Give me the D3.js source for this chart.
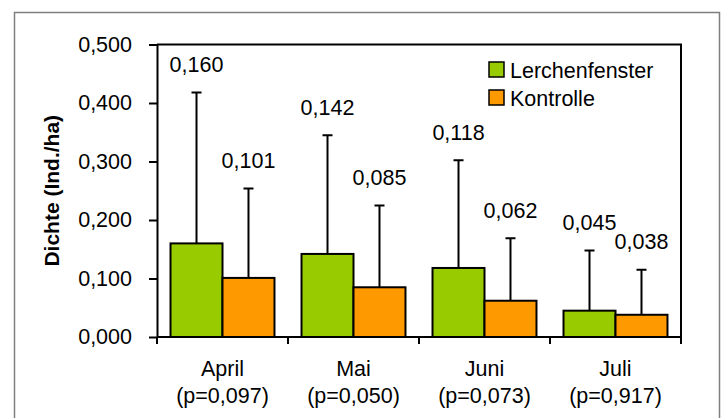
<!DOCTYPE html>
<html>
<head>
<meta charset="utf-8">
<script src="https://cdn.jsdelivr.net/npm/d3@7"></script>
<style>
  body { margin: 0; background: #fff; }
  text { font-family: "Liberation Sans", Arial, sans-serif; }
</style>
</head>
<body>
<div id="chart"></div>
<script>
// data
const months = ["April", "Mai", "Juni", "Juli"]
const pValues = ["(p=0,097)", "(p=0,050)", "(p=0,073)", "(p=0,917)"]
const seriesNames = ["Lerchenfenster", "Kontrolle"]
const seriesColors = ["#99CC00", "#FF9900"]
const lerchenfenster = [0.160, 0.142, 0.118, 0.045]
const kontrolle = [0.101, 0.085, 0.062, 0.038]
const lerchenfensterErr = [0.418, 0.345, 0.302, 0.148]   // top of error bar
const kontrolleErr = [0.254, 0.225, 0.169, 0.115]
const yTicks = [0, 0.1, 0.2, 0.3, 0.4, 0.5]

const W = 724, H = 418
const FS = '21.5px'
const margin = { left: 157, right: 43, top: 44.5, bottom: 81 }
const width = W - margin.left - margin.right
const height = H - margin.top - margin.bottom

const svg = d3.select('#chart').append('svg')
    .attr('width', W)
    .attr('height', H)

// outer frame
svg.append('rect')
    .attr('x', 14.5).attr('y', 12.5)
    .attr('width', 705).attr('height', 420)
    .attr('fill', 'none')
    .attr('stroke', '#7f7f7f')
    .attr('stroke-width', 1.5)

const g = svg.append('g')
    .attr('transform', `translate(${margin.left}, ${margin.top})`)

const xScale = d3.scaleBand().domain(months).range([0, width])
const xInner = d3.scaleBand().domain(seriesNames).range([0, xScale.bandwidth()]).paddingOuter(0.26)
const yScale = d3.scaleLinear().domain([0, 0.5]).range([height, 0])

const fmt = v => d3.format('.3f')(v).replace('.', ',')

// plot frame top/right
g.append('path')
    .attr('d', `M0,0H${width}V${height}`)
    .attr('fill', 'none')
    .attr('stroke', '#000')
    .attr('stroke-width', 2)

// y axis
const yaxis = d3.axisLeft(yScale).tickValues(yTicks).tickFormat(fmt).tickSize(8).tickSizeOuter(0)
const ya = g.append('g').call(yaxis)
ya.select('.domain').attr('stroke-width', 2)
ya.selectAll('.tick line').attr('stroke-width', 2)
ya.selectAll('.tick text')
    .attr('x', -25)
    .style('font-size', FS)
    .style('font-family', '"Liberation Sans", Arial, sans-serif')
    .attr('fill', '#000')

// y label
g.append('text')
    .attr('transform', 'rotate(-90)')
    .attr('x', -(height / 2))
    .attr('y', 59 - margin.left)
    .style('text-anchor', 'middle')
    .style('font-size', '21px')
    .style('font-weight', 'bold')
    .text('Dichte (Ind./ha)')

// bars
const rows = months.map((m, i) => [
    { month: m, s: seriesNames[0], v: lerchenfenster[i], e: lerchenfensterErr[i], c: seriesColors[0] },
    { month: m, s: seriesNames[1], v: kontrolle[i], e: kontrolleErr[i], c: seriesColors[1] }
])

const groups = g.selectAll('.grp').data(rows).enter().append('g')
    .attr('transform', d => `translate(${xScale(d[0].month)},0)`)

// error bars
groups.selectAll('.err').data(d => d).enter().append('path')
    .attr('d', d => {
        const cx = xInner(d.s) + xInner.bandwidth() / 2
        return `M${cx},${yScale(d.v)}V${yScale(d.e)}M${cx - 5},${yScale(d.e)}H${cx + 5}`
    })
    .attr('stroke', '#000')
    .attr('stroke-width', 2)
    .attr('fill', 'none')

groups.selectAll('rect').data(d => d).enter().append('rect')
    .attr('x', d => xInner(d.s))
    .attr('y', d => yScale(d.v))
    .attr('width', xInner.bandwidth())
    .attr('height', d => height - yScale(d.v))
    .attr('fill', d => d.c)
    .attr('stroke', '#000')
    .attr('stroke-width', 2)

// value labels
groups.selectAll('.lbl').data(d => d).enter().append('text')
    .attr('x', d => xInner(d.s) + xInner.bandwidth() / 2)
    .attr('y', d => yScale(d.e) - 28)
    .attr('dy', '0.35em')
    .style('text-anchor', 'middle')
    .style('font-size', FS)
    .text(d => fmt(d.v))

// x axis line + ticks at boundaries
g.append('line')
    .attr('x1', 0).attr('x2', width)
    .attr('y1', height).attr('y2', height)
    .attr('stroke', '#000').attr('stroke-width', 2)
const bounds = months.map(m => xScale(m)).concat([width])
g.selectAll('.xt').data(bounds).enter().append('line')
    .attr('x1', d => d).attr('x2', d => d)
    .attr('y1', height).attr('y2', height + 7)
    .attr('stroke', '#000').attr('stroke-width', 2)

// x labels
const xl = g.selectAll('.xl').data(months).enter().append('text')
    .attr('x', d => xScale(d) + xScale.bandwidth() / 2)
    .attr('y', height + 39)
    .style('text-anchor', 'middle')
    .style('font-size', FS)
xl.append('tspan').text(d => d)
xl.append('tspan')
    .attr('x', d => xScale(d) + xScale.bandwidth() / 2)
    .attr('dy', 27)
    .text((d, i) => pValues[i])

// legend
const legend = svg.append('g').attr('transform', 'translate(489, 62)')
seriesNames.forEach((name, i) => {
    const row = legend.append('g').attr('transform', `translate(0, ${i * 28})`)
    row.append('rect')
        .attr('width', 15).attr('height', 15)
        .attr('fill', seriesColors[i])
        .attr('stroke', '#000').attr('stroke-width', 1.5)
    row.append('text')
        .attr('x', 21).attr('y', 16)
        .style('font-size', FS)
        .text(name)
})
</script>
</body>
</html>
